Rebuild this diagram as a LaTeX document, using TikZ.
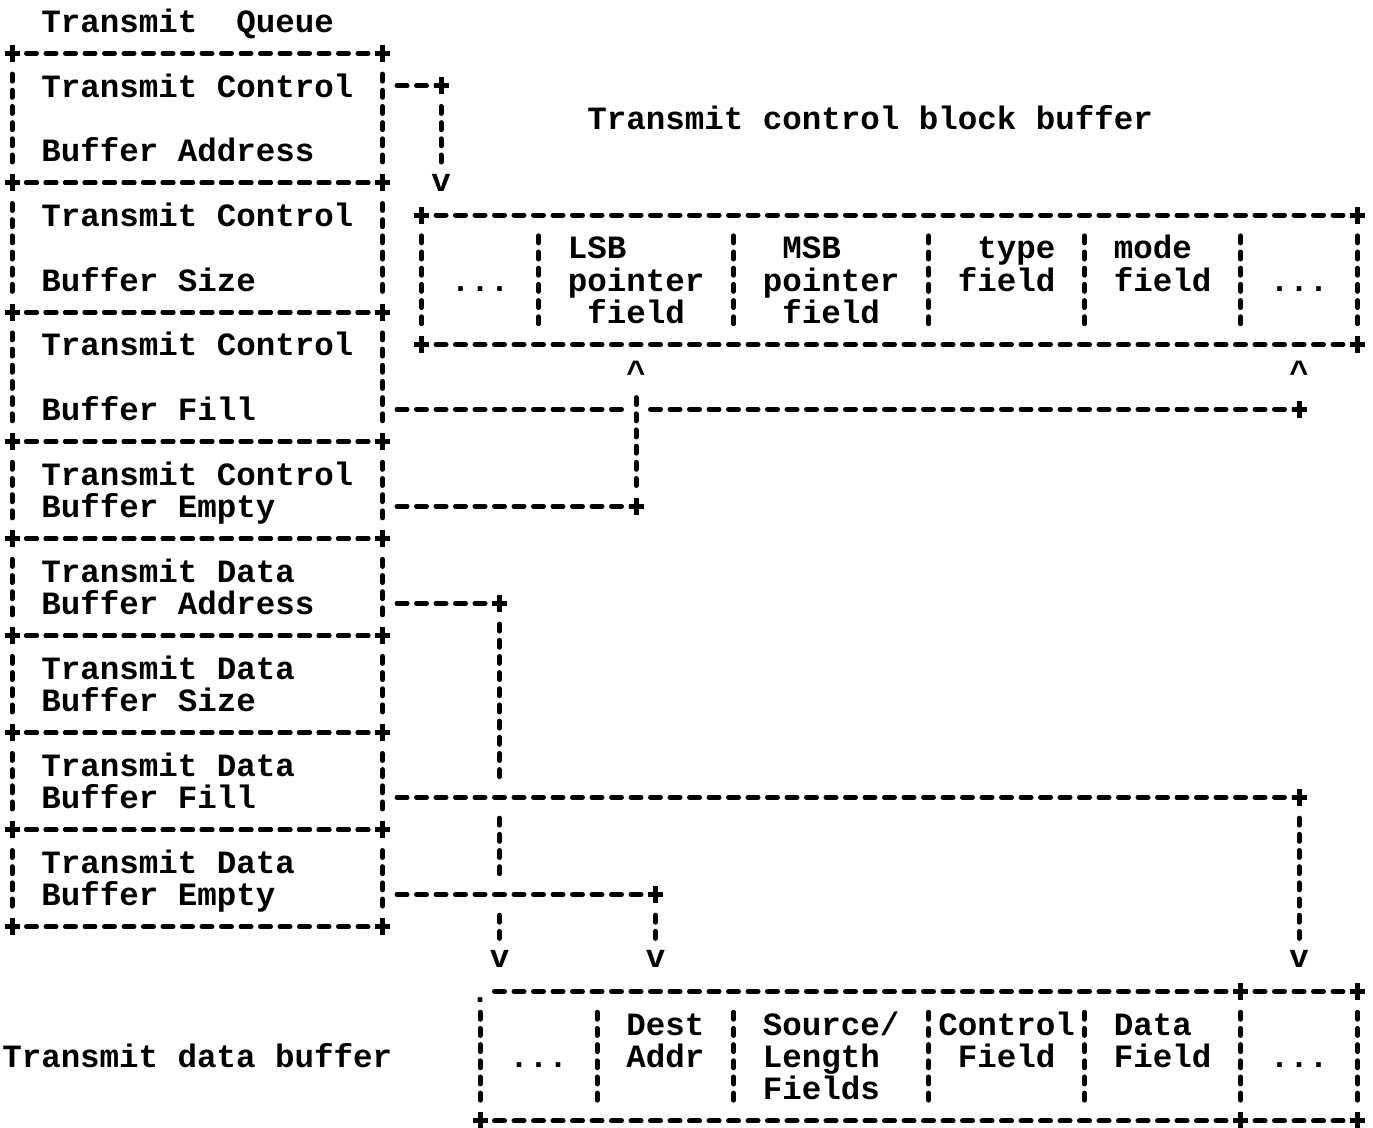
\documentclass[tikz,border=0pt]{standalone}
\usepackage{fontspec}
\setmonofont{Liberation Mono}
\newcommand\plusmark[1]{\draw[pm] (#1) ++(-3.75pt,0) -- ++(7.5pt,0) (#1) ++(0,-4.25pt) -- ++(0,8.5pt);}
\newcommand\boxborder[1]{%
  \draw[hd] (#1.north west) -- (#1.north east);
  \draw[hd] (#1.south west) -- (#1.south east);
  \draw[vd] (#1.north west) -- (#1.south west);
  \draw[vd] (#1.north east) -- (#1.south east);
  \plusmark{#1.north west}\plusmark{#1.north east}%
  \plusmark{#1.south west}\plusmark{#1.south east}}
\begin{document}
\begin{tikzpicture}[x=9.75pt, y=-16.175pt,
  txt/.style={anchor=base west, inner sep=0pt, outer sep=0pt,
    font=\ttfamily\bfseries\fontsize{16.25pt}{16.175pt}\selectfont},
  arr/.style={txt, anchor=center},
  uparr/.style={txt, anchor=center, text depth=5pt},
  hd/.style={line width=2.5pt, line cap=round, dash pattern=on 5pt off 4.75pt, dash phase=2.5pt},
  hdc/.style={hd, shorten <=4.875pt, dash phase=7.375pt},
  hde/.style={shorten >=4.875pt},
  vd/.style={line width=2.5pt, line cap=round, dash pattern=on 3.5pt off 4.5875pt,
    dash phase=5.79375pt, shorten <=8.0875pt, shorten >=8.0875pt},
  pm/.style={line width=2.5pt},
  qbox/.style={inner sep=0pt, outer sep=0pt, minimum width=185.25pt},
  tall/.style={minimum height=64.7pt},
  short/.style={minimum height=48.525pt}
]
\useasboundingbox[fill=white] (-0.6154,-0.6491) rectangle (69.795,34.189);

% ---------- Transmit queue ----------
\node[txt] (title) at (1.5,0.35) {Transmit\ \ Queue};

\node[qbox,tall]  (q1) at (9.5,3)    {};
\node[qbox,tall]  (q2) at (9.5,7)    {};
\node[qbox,tall]  (q3) at (9.5,11)   {};
\node[qbox,short] (q4) at (9.5,14.5) {};
\node[qbox,short] (q5) at (9.5,17.5) {};
\node[qbox,short] (q6) at (9.5,20.5) {};
\node[qbox,short] (q7) at (9.5,23.5) {};
\node[qbox,short] (q8) at (9.5,26.5) {};
\foreach \q in {q1,q2,q3,q4,q5,q6,q7,q8} {\boxborder{\q}}

\node[txt] (q1a) at (1.5,2.35)  {Transmit Control};
\node[txt] (q1b) at (1.5,4.35)  {Buffer Address};
\node[txt] (q2a) at (1.5,6.35)  {Transmit Control};
\node[txt] (q2b) at (1.5,8.35)  {Buffer Size};
\node[txt] (q3a) at (1.5,10.35) {Transmit Control};
\node[txt] (q3b) at (1.5,12.35) {Buffer Fill};
\node[txt] (q4a) at (1.5,14.35) {Transmit Control};
\node[txt] (q4b) at (1.5,15.35) {Buffer Empty};
\node[txt] (q5a) at (1.5,17.35) {Transmit Data};
\node[txt] (q5b) at (1.5,18.35) {Buffer Address};
\node[txt] (q6a) at (1.5,20.35) {Transmit Data};
\node[txt] (q6b) at (1.5,21.35) {Buffer Size};
\node[txt] (q7a) at (1.5,23.35) {Transmit Data};
\node[txt] (q7b) at (1.5,24.35) {Buffer Fill};
\node[txt] (q8a) at (1.5,26.35) {Transmit Data};
\node[txt] (q8b) at (1.5,27.35) {Buffer Empty};

% ---------- Transmit control block buffer ----------
\node[txt] (cbtitle) at (29.5,3.35) {Transmit control block buffer};
\node[inner sep=0pt, outer sep=0pt, minimum width=468pt, minimum height=64.7pt] (cb) at (45,8) {};
\boxborder{cb}
\foreach \c in {27,37,47,55,63} {\draw[vd] (\c,6) -- (\c,10);}
\node[txt] (cb1)  at (22.5,8.35) {...};
\node[txt] (cb2a) at (28.5,7.35) {LSB};
\node[txt] (cb2b) at (28.5,8.35) {pointer};
\node[txt] (cb2c) at (29.5,9.35) {field};
\node[txt] (cb3a) at (39.5,7.35) {MSB};
\node[txt] (cb3b) at (38.5,8.35) {pointer};
\node[txt] (cb3c) at (39.5,9.35) {field};
\node[txt] (cb4a) at (49.5,7.35) {type};
\node[txt] (cb4b) at (48.5,8.35) {field};
\node[txt] (cb5a) at (56.5,7.35) {mode};
\node[txt] (cb5b) at (56.5,8.35) {field};
\node[txt] (cb6)  at (64.5,8.35) {...};

% ---------- Transmit data buffer ----------
\node[txt] (dbtitle) at (-0.5,32.35) {Transmit data buffer};
\node[inner sep=0pt, outer sep=0pt, minimum width=438.75pt, minimum height=64.7pt] (db) at (46.5,32) {};
\draw[hdc] (db.north west) -- (db.north east);
\draw[hd] (db.south west) -- (db.south east);
\draw[vd] (db.north west) -- (db.south west);
\draw[vd] (db.north east) -- (db.south east);
\node[txt] (dbdot) at (23.5,30.35) {.};
\plusmark{db.north east}\plusmark{db.south west}\plusmark{db.south east}
\plusmark{63,30}\plusmark{63,34}
\foreach \c in {30,37,47,55,63} {\draw[vd] (\c,30) -- (\c,34);}
\node[txt] (db1)  at (25.5,32.35) {...};
\node[txt] (db2a) at (31.5,31.35) {Dest};
\node[txt] (db2b) at (31.5,32.35) {Addr};
\node[txt] (db3a) at (38.5,31.35) {Source/};
\node[txt] (db3b) at (38.5,32.35) {Length};
\node[txt] (db3c) at (38.5,33.35) {Fields};
\node[txt] (db4a) at (47.5,31.35) {Control};
\node[txt] (db4b) at (48.5,32.35) {Field};
\node[txt] (db5a) at (56.5,31.35) {Data};
\node[txt] (db5b) at (56.5,32.35) {Field};
\node[txt] (db6)  at (64.5,32.35) {...};

% ---------- junctions and arrowheads ----------
\coordinate (j1) at (22,2);
\coordinate (j3) at (66,12);
\coordinate (j4) at (32,15);
\coordinate (j5) at (25,18);
\coordinate (j7) at (66,24);
\coordinate (j8) at (33,27);
\node[arr]   (a1) at (22,5)  {v};
\node[uparr] (u1) at (32,11) {\^{}};
\node[uparr] (u2) at (66,11) {\^{}};
\node[arr]   (a5) at (25,29) {v};
\node[arr]   (a8) at (33,29) {v};
\node[arr]   (a7) at (66,29) {v};

% Transmit Control Buffer Address -> control block buffer
\draw[hdc] (q1.east |- j1) -- (j1);
\draw[vd] (j1) -- (a1.center);
\plusmark{j1}

% Transmit Control Buffer Fill -> end of control block buffer
\draw[hdc,hde] (q3.east |- j3) -- (j4 |- j3);
\draw[hdc] (j4 |- j3) -- (j3);
\plusmark{j3}

% Transmit Control Buffer Empty -> LSB pointer
\draw[hdc] (q4.east |- j4) -- (j4);
\draw[vd] (u1.center) -- (j4);
\plusmark{j4}

% Transmit Data Buffer Address -> data buffer
\draw[hdc] (q5.east |- j5) -- (j5);
\draw[vd] (j5) -- (j5 |- j7);
\draw[vd] (j5 |- j7) -- (j5 |- j8);
\draw[vd] (j5 |- j8) -- (a5.center);
\plusmark{j5}

% Transmit Data Buffer Fill -> data buffer
\draw[hdc] (q7.east |- j7) -- (j7);
\draw[vd] (j7) -- (a7.center);
\plusmark{j7}

% Transmit Data Buffer Empty -> Dest Addr
\draw[hdc] (q8.east |- j8) -- (j8);
\draw[vd] (j8) -- (a8.center);
\plusmark{j8}
\end{tikzpicture}
\end{document}
